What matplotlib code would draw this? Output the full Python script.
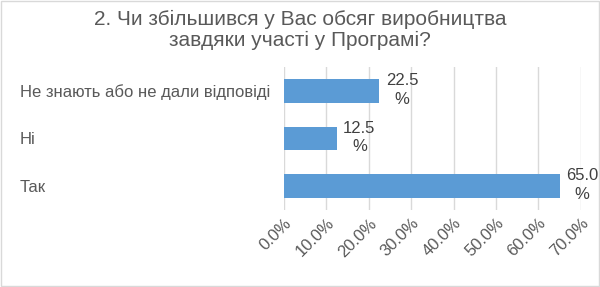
import matplotlib.pyplot as plt
from matplotlib.patches import Rectangle

plt.rcParams["font.family"] = ["Liberation Sans", "DejaVu Sans"]

categories = ["Не знають або не дали відповіді", "Ні", "Так"]
values = [22.5, 12.5, 65.0]
ticks = [0, 10, 20, 30, 40, 50, 60, 70]

text_color = "#595959"
bar_color = "#5b9bd5"

fig = plt.figure(figsize=(6.0, 2.87), dpi=100)
ax = fig.add_axes([0.473, 0.268, 0.495, 0.499])

y = list(range(len(categories)))[::-1]
ax.barh(y, values, height=0.5, color=bar_color, zorder=3)

for yi, v in zip(y, values):
    ax.text(v + 1.5, yi + 0.02, f"{v:.1f}\n%", ha="left", va="center",
            multialignment="center", fontsize=12, color="#404040",
            linespacing=1.3, zorder=4)

ax.set_xlim(0, 70)
ax.set_ylim(-0.5, 2.5)
ax.set_xticks(ticks)
ax.set_xticklabels([f"{t:.1f}%" for t in ticks], rotation=45, ha="right",
                   rotation_mode="anchor", fontsize=12, color=text_color)
ax.set_yticks(y)
ax.set_yticklabels(categories, fontsize=12, color=text_color, ha="left")
ax.tick_params(axis="y", length=0, pad=190)
ax.tick_params(axis="x", length=0, pad=4)
ax.grid(axis="x", color="#d9d9d9", linewidth=1, zorder=0)
for s in ax.spines.values():
    s.set_visible(False)

fig.text(0.5, 0.965, "2. Чи збільшився у Вас обсяг виробництва\nзавдяки участі у Програмі?",
         ha="center", va="top", fontsize=15, color=text_color, linespacing=1.15)

fig.patches.append(Rectangle((0.001, 0.002), 0.997, 0.995, transform=fig.transFigure,
                             fill=False, edgecolor="#d9d9d9", linewidth=1))

fig.savefig("out.png", dpi=100)
